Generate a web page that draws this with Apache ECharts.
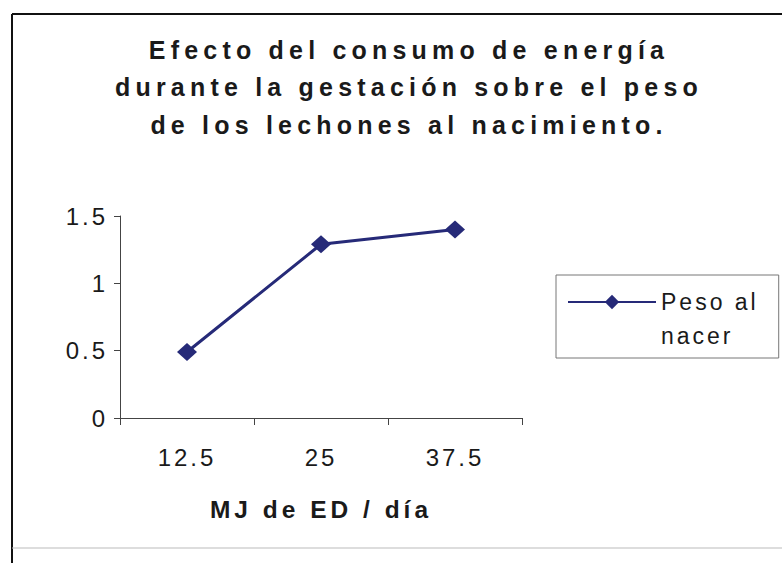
<!DOCTYPE html>
<html>
<head>
<meta charset="utf-8">
<script src="https://cdn.jsdelivr.net/npm/echarts@6/dist/echarts.min.js"></script>
<style>
html,body{margin:0;padding:0;background:#fff;}
#chart{width:782px;height:563px;}
#chart text[style*="25px"]{letter-spacing:5.2px;}
#chart text[style*="24.5px"]{letter-spacing:4px;}
#chart text[style*="24px"]{letter-spacing:3px;}
#chart text[style*="23px"]{letter-spacing:3px;}
</style>
</head>
<body>
<div id="chart"></div>
<script>
const titleText = 'Efecto del consumo de energía\ndurante la gestación sobre el peso\nde los lechones al nacimiento.';
const categories = ['12.5', '25', '37.5'];
const seriesName = 'Peso al\nnacer';
const pesoValues = [0.49, 1.29, 1.40];
const xAxisName = 'MJ de ED / día';
const yMin = 0, yMax = 1.5, yInterval = 0.5;

const chart = echarts.init(document.getElementById('chart'), null, {renderer: 'svg'});
const font = 'Liberation Sans';
chart.setOption({
  animation: false,
  backgroundColor: '#ffffff',
  title: {
    text: titleText,
    left: 404,
    top: 26,
    textAlign: 'center',
    textStyle: {fontFamily: font, fontSize: 25, fontWeight: 'bold', color: '#1a1a1a', lineHeight: 37.5}
  },
  graphic: [
    {type: 'line', shape: {x1: 12, y1: 14, x2: 782, y2: 14}, style: {stroke: '#111', lineWidth: 2}, silent: true},
    {type: 'line', shape: {x1: 12, y1: 14, x2: 12, y2: 563}, style: {stroke: '#111', lineWidth: 2}, silent: true},
    {type: 'line', shape: {x1: 12, y1: 548, x2: 782, y2: 548}, style: {stroke: '#bbb', lineWidth: 1}, silent: true}
  ],
  grid: {left: 120, right: 260, top: 216, bottom: 145, containLabel: false},
  legend: {
    data: [seriesName],
    formatter: function (name) { return '\n' + name; },
    left: 556,
    top: 275,
    orient: 'vertical',
    padding: [-24, 41, 5, 11],
    itemWidth: 88,
    itemHeight: 18,
    borderColor: '#777',
    borderWidth: 1,
    borderRadius: 0,
    textStyle: {fontFamily: font, fontSize: 23, color: '#1a1a1a', lineHeight: 34}
  },
  xAxis: {
    type: 'category',
    data: categories,
    boundaryGap: true,
    name: xAxisName,
    nameLocation: 'middle',
    nameGap: 79,
    nameTextStyle: {fontFamily: font, fontSize: 24.5, fontWeight: 'bold', color: '#1a1a1a'},
    axisLine: {lineStyle: {color: '#444', width: 1}},
    axisTick: {show: true, length: 7, lineStyle: {color: '#444'}},
    axisLabel: {fontFamily: font, fontSize: 24, color: '#1a1a1a', margin: 27},
    splitLine: {show: false}
  },
  yAxis: {
    type: 'value',
    min: yMin,
    max: yMax,
    interval: yInterval,
    axisLine: {show: true, lineStyle: {color: '#444', width: 1}},
    axisTick: {show: true, length: 6, lineStyle: {color: '#444'}},
    axisLabel: {fontFamily: font, fontSize: 24, color: '#1a1a1a', margin: 12},
    splitLine: {show: false}
  },
  series: [{
    name: seriesName,
    type: 'line',
    data: pesoValues,
    symbol: 'diamond',
    symbolSize: [20, 18],
    lineStyle: {color: '#262a78', width: 3},
    itemStyle: {color: '#262a78'},
    emphasis: {disabled: true}
  }]
});
</script>
</body>
</html>
